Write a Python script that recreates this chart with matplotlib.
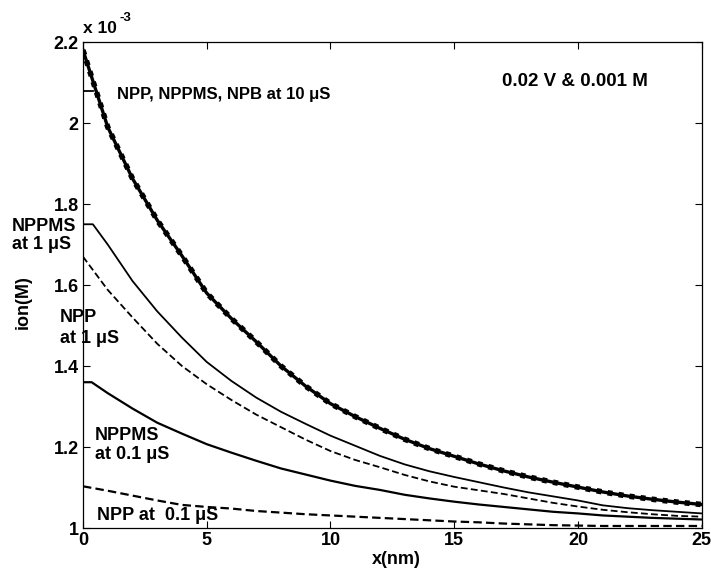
import numpy as np
import matplotlib
matplotlib.use('Agg')
import matplotlib.pyplot as plt
from matplotlib.ticker import FuncFormatter

plt.rcParams['font.family'] = ['Liberation Sans', 'DejaVu Sans']
plt.rcParams['font.weight'] = 'bold'

# ion concentration, units of 1e-3 M
x = np.arange(0, 26)
npp_10 = [2.18, 1.99, 1.863, 1.76, 1.672, 1.58, 1.517, 1.46, 1.40, 1.35, 1.307,
          1.275, 1.246, 1.219, 1.196, 1.177, 1.158, 1.141, 1.126, 1.113, 1.101,
          1.089, 1.079, 1.071, 1.064, 1.058]
nppms_10_x = [0, 0.42]
nppms_10 = [2.08, 2.08]
nppms_1_x = [0, 0.4] + list(range(1, 26))
nppms_1 = [1.75, 1.75, 1.70, 1.61, 1.535, 1.47, 1.41, 1.363, 1.322, 1.287,
           1.257, 1.228, 1.203, 1.178, 1.157, 1.14, 1.126, 1.113, 1.10, 1.088,
           1.078, 1.068, 1.056, 1.049, 1.044, 1.04, 1.036]
npp_1 = [1.67, 1.588, 1.52, 1.455, 1.40, 1.355, 1.316, 1.28, 1.249, 1.218,
         1.19, 1.168, 1.15, 1.131, 1.115, 1.102, 1.093, 1.084, 1.073, 1.062,
         1.053, 1.045, 1.039, 1.034, 1.03, 1.028]
nppms_01_x = [0, 0.35] + list(range(1, 26))
nppms_01 = [1.36, 1.36, 1.333, 1.295, 1.26, 1.233, 1.207, 1.186, 1.166, 1.147,
            1.132, 1.117, 1.104, 1.094, 1.082, 1.073, 1.065, 1.058, 1.052,
            1.046, 1.04, 1.036, 1.031, 1.028, 1.025, 1.023, 1.021]
npp_01 = [1.103, 1.092, 1.08, 1.068, 1.057, 1.052, 1.048, 1.042, 1.038, 1.034,
          1.031, 1.028, 1.025, 1.022, 1.019, 1.016, 1.014, 1.011, 1.009, 1.007,
          1.006, 1.005, 1.005, 1.005, 1.005, 1.005]

fig = plt.figure(figsize=(7.11, 5.71), dpi=100)
ax = fig.add_axes([0.1167, 0.0753, 0.8703, 0.8511])

# 10 uS: several overlapping curves -> thick ragged band
ax.plot(x, npp_10, color='k', lw=2.4)
ax.plot(x, npp_10, color='k', lw=4.0, ls=(0, (0.9, 1.1)))
ax.plot(nppms_10_x, nppms_10, color='k', lw=1.3)
ax.plot(nppms_1_x, nppms_1, color='k', lw=1.3)
ax.plot(x, npp_1, color='k', lw=1.3, ls=(0, (3.8, 1.8)))
ax.plot(nppms_01_x, nppms_01, color='k', lw=1.6)
ax.plot(x, npp_01, color='k', lw=1.6, ls=(0, (3.8, 1.9)))

ax.set_xlim(0, 25)
ax.set_ylim(1, 2.2)
ax.set_xticks(range(0, 26, 5))
ax.set_yticks([1, 1.2, 1.4, 1.6, 1.8, 2, 2.2])
ax.yaxis.set_major_formatter(FuncFormatter(lambda v, p: '%g' % v))
ax.tick_params(direction='in', length=5, width=0.8, top=True, right=True,
               labelsize=13, pad=3)
for s in ax.spines.values():
    s.set_linewidth(0.9)

ax.set_xlabel('x(nm)', fontsize=13, fontweight='bold')
ax.xaxis.set_label_coords(0.507, -0.048)
ax.set_ylabel('ion(M)', fontsize=13, fontweight='bold')
ax.yaxis.set_label_coords(-0.083, 0.465)
fig.text(83 / 711, 1 - 33 / 571, 'x 10', fontsize=12.5, va='baseline')
fig.text(119 / 711, 1 - 21 / 571, '-3', fontsize=9.5, va='baseline')

ax.text(1.37, 2.07, 'NPP, NPPMS, NPB at 10 \u03bcS', fontsize=12, va='center')
ax.text(16.92, 2.102, '0.02 V & 0.001 M', fontsize=13.5, va='center')
ax.text(-2.87, 1.723, 'NPPMS\nat 1 \u03bcS', fontsize=13, va='center',
        linespacing=1.1, clip_on=False)
ax.text(-0.93, 1.494, 'NPP\nat 1 \u03bcS', fontsize=13, va='center',
        linespacing=1.25, clip_on=False)
ax.text(0.485, 1.205, 'NPPMS\nat 0.1 \u03bcS', fontsize=13, va='center',
        linespacing=1.1)
ax.text(0.57, 1.03, 'NPP at  0.1 \u03bcS', fontsize=13, va='center')

fig.savefig('out.png', dpi=100)
